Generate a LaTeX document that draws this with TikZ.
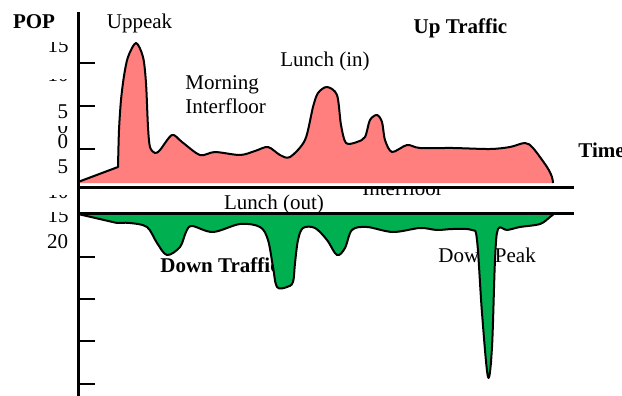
\documentclass[tikz,border=0pt]{standalone}
\usepackage{fontspec}
\setmainfont{Liberation Serif}
\usetikzlibrary{positioning}
\definecolor{uppink}{RGB}{255,127,127}
\definecolor{downgreen}{RGB}{0,176,80}
\tikzset{
  lbl/.style={inner sep=0pt, font=\fontsize{10.5}{12}\selectfont}
}
\tikzset{
  boldlbl/.style={lbl, font=\fontsize{10.5}{12}\selectfont\bfseries}
}
\tikzset{
  axisline/.style={line width=1.5pt}
}
\tikzset{
  axtick/.style={line width=1.3pt}
}
\tikzset{
  trafficline/.style={line width=1pt, line join=round}
}

\begin{document}
\begin{tikzpicture}[x=0.5pt, y=-0.5pt]
  \useasboundingbox (0,0) rectangle (622,396);

  % texts that the curves cover
  \node[boldlbl, anchor=base west] (downtraffic) at (160,272) {Down Traffic};
  \node[lbl, anchor=base west] (downpeak) at (438,262) {Down Peak};
  \begin{scope}
    \clip (350,188) rectangle (460,205);
    \node[lbl, anchor=base west] (interfloor) at (362,195) {Interfloor};
  \end{scope}

  % up traffic
  \draw[trafficline, fill=uppink] (78,183) -- (78,182) -- (118,167)
    -- plot[smooth, tension=0.5] coordinates {(118,167) (119,130) (121,100) (124,76) (128,57)
      (136,43) (143,57) (146,83) (148,127) (150,147) (155,153) (160,150) (172,135)
      (182,142) (200,155) (215,152) (240,155) (255,151) (268,147) (280,155) (290,157)
      (305,140) (313,107) (318,93) (327,87) (337,95) (341,125) (346,143) (357,142)
      (365,137) (370,120) (377,115) (382,122) (385,140) (392,152) (407,145) (420,148)
      (453,148) (490,149) (510,147) (525,143) (533,148) (547,167) (552,177) (553,183)};

  % down traffic
  \draw[trafficline, fill=downgreen] (78,213) -- (78,214) -- (117,223)
    -- plot[smooth, tension=0.55] coordinates {(117,223) (130,223) (147,227) (157,243)
      (167,255) (180,247) (186,232) (192,226) (213,232) (240,224) (260,227) (268,240)
      (273,267) (277,287) (287,287) (293,282) (295,263) (298,240) (303,228) (315,228)
      (327,240) (337,255) (345,248) (352,230) (367,227) (393,232) (420,228) (437,230)
      (453,229) (472,230) (477,240) (482,313) (488,377) (492,347) (495,260) (498,229)
      (507,230) (520,227) (540,224) (550,217) (555,213)};

  % axes
  \coordinate (top) at (78,12);
  \coordinate (bottom) at (78,396);
  \draw[axisline] (top) -- (bottom);
  \draw[axisline] (78,187.5) -- (574,187.5);
  \draw[axisline] (78,213) -- (574,213);
  \foreach \ty in {63,106,149,257,299,341,384}
    \draw[axtick] (78,\ty) -- (95,\ty);

  % scale labels, partly cut
  \begin{scope}
    \clip (40,42) rectangle (76,58);
    \node[lbl, anchor=base east] (upfifteen) at (69,53) {15};
  \end{scope}
  \begin{scope}
    \clip (40,79.5) rectangle (76,86);
    \node[lbl, anchor=base east] (upten) at (69,81) {10};
  \end{scope}
  \node[lbl, anchor=base east] (upfive) at (68.5,118) {5};
  \begin{scope}
    \clip (54,126.5) rectangle (76,136);
    \node[lbl, anchor=base east] (upzeroa) at (68.5,133) {0};
  \end{scope}
  \node[lbl, anchor=base east] (upzero) at (68.5,148) {0};
  \node[lbl, anchor=base east] (downfive) at (68.5,173) {5};
  \begin{scope}
    \clip (40,195.5) rectangle (76,202);
    \node[lbl, anchor=base east] (downten) at (69,198) {10};
  \end{scope}
  \begin{scope}
    \clip (40,212) rectangle (76,226);
    \node[lbl, anchor=base east] (downfifteen) at (69,222) {15};
  \end{scope}
  \node[lbl, anchor=base east] (downtwenty) at (68.5,248) {20};

  % captions
  \node[boldlbl, anchor=base] (pop) at (34,28) {POP};
  \node[lbl, anchor=base] (uppeak) at (139.5,28) {Uppeak};
  \node[boldlbl, anchor=base] (uptraffic) at (460.5,33) {Up Traffic};
  \node[lbl, anchor=base west] (morning) at (185,90) {Morning};
  \node[lbl, anchor=base west] (morninginter) at (185,113) {Interfloor};
  \node[lbl, anchor=base] (lunchin) at (325,66) {Lunch (in)};
  \node[boldlbl, anchor=base west] (time) at (578,157) {Time};
  \node[lbl, anchor=base] (lunchout) at (274,209) {Lunch (out)};
\end{tikzpicture}
\end{document}
